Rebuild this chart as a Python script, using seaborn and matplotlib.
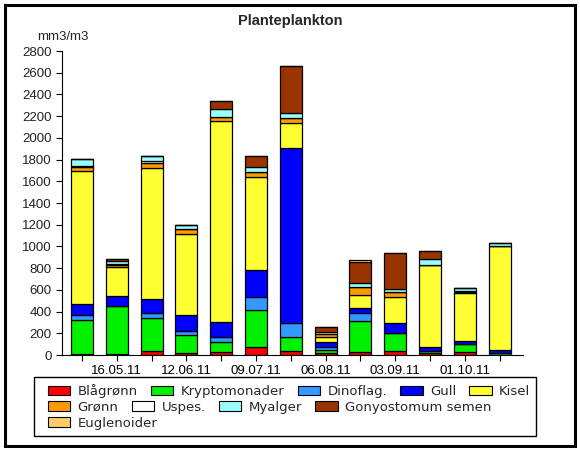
import matplotlib
matplotlib.use('Agg')
import matplotlib.pyplot as plt
from matplotlib.patches import Patch, Rectangle
import pandas as pd
import seaborn as sns

# sample positions (13 samplings), only every other one is labelled
tick_labels = ['', '16.05.11', '', '12.06.11', '', '09.07.11', '',
               '06.08.11', '', '03.09.11', '', '01.10.11', '']

groups = ['Blågrønn', 'Kryptomonader', 'Dinoflag.', 'Gull', 'Kisel',
          'Grønn', 'Uspes.', 'Myalger', 'Gonyostomum semen', 'Euglenoider']

blagronn = [5, 10, 34, 15, 25, 70, 40, 20, 25, 40, 20, 25, 0]
krypto = [315, 440, 303, 166, 92, 341, 123, 25, 285, 166, 20, 73, 15]
dinoflag = [45, 0, 46, 40, 45, 126, 129, 29, 80, 0, 0, 0, 0]
gull = [101, 95, 129, 147, 138, 250, 1611, 46, 43, 86, 37, 31, 31]
kisel = [1229, 270, 1214, 751, 1855, 855, 231, 43, 117, 239, 750, 445, 954]
gronn = [37, 10, 43, 43, 40, 43, 52, 30, 73, 46, 0, 10, 0]
uspes = [5, 10, 15, 0, 0, 0, 0, 15, 0, 0, 0, 9, 0]
myalger = [65, 30, 50, 34, 70, 50, 40, 0, 37, 31, 58, 21, 28]
gonyo = [0, 15, 0, 0, 75, 100, 436, 50, 197, 328, 73, 0, 0]
eugleno = [0, 0, 0, 0, 0, 0, 0, 0, 15, 0, 0, 0, 0]

colors = ['#FF0000', '#00F000', '#3399FF', '#0000FF', '#FFFF33',
          '#FF9900', '#FFFFFF', '#99FFFF', '#993300', '#FFCC66']

series = [blagronn, krypto, dinoflag, gull, kisel, gronn, uspes,
          myalger, gonyo, eugleno]
rows = []
for g, vals in zip(groups, series):
    for i, v in enumerate(vals):
        rows.append({'pos': i, 'group': g, 'value': v})
df = pd.DataFrame(rows)

sns.set_style('white')
plt.rcParams['font.family'] = ['Liberation Sans', 'DejaVu Sans']

fig = plt.figure(figsize=(5.8, 4.5), dpi=100)
ax = fig.add_axes([62 / 580, 1 - 355 / 450, (523 - 62) / 580, (355 - 51) / 450])

# histplot stacks the first hue level on top, so reverse the order
sns.histplot(data=df, x='pos', hue='group', weights='value',
             multiple='stack', discrete=True, shrink=0.63,
             hue_order=groups[::-1], palette=dict(zip(groups, colors)),
             alpha=1, edgecolor='black', linewidth=0.9, legend=False, ax=ax)

ax.set_xlim(-0.575, 12.67)
ax.set_ylim(0, 2800)
ax.set_yticks(range(0, 2801, 200))
ax.set_xticks(range(len(tick_labels)))
ax.set_xticklabels(tick_labels)
ax.set_xlabel('')
ax.set_ylabel('')
ax.tick_params(axis='both', labelsize=9.5, direction='out', length=4,
               width=0.8, colors='black', left=True, bottom=True)
ax.tick_params(axis='y', labelcolor='#222222')
for side in ['top', 'right']:
    ax.spines[side].set_visible(False)
for side in ['left', 'bottom']:
    ax.spines[side].set_color('black')
    ax.spines[side].set_linewidth(0.8)

fig.text(0.5, 1 - 21 / 450, 'Planteplankton', ha='center', va='center',
         fontsize=10.5, fontweight='bold')
fig.text(37 / 580, 1 - 37 / 450, 'mm3/m3', ha='left', va='center', fontsize=9.5)

# legend laid out in flowing rows like the original
handles = [Patch(facecolor=c, edgecolor='black', linewidth=0.8, label=g)
           for g, c in zip(groups, colors)]
legend_rows = [handles[0:5], handles[5:9], handles[9:10]]
row_y = [391, 407, 423]
for hrow, yy in zip(legend_rows, row_y):
    fig.legend(handles=hrow, loc='center left',
               bbox_to_anchor=(48 / 580, 1 - yy / 450), ncol=len(hrow),
               frameon=False, prop={'family': 'DejaVu Sans', 'size': 9.5},
               handlelength=1.7, handleheight=0.7, handletextpad=0.55,
               columnspacing=1.0, borderpad=0, borderaxespad=0)

fig.patches.append(Rectangle((34 / 580, 1 - 436 / 450), (536 - 34) / 580,
                             (436 - 377) / 450, transform=fig.transFigure,
                             fill=False, edgecolor='black', linewidth=1))
fig.patches.append(Rectangle((5 / 580, 1 - 446 / 450), (575 - 5) / 580,
                             (446 - 5) / 450, transform=fig.transFigure,
                             fill=False, edgecolor='black', linewidth=2.2))

fig.savefig('out.png', dpi=100)
